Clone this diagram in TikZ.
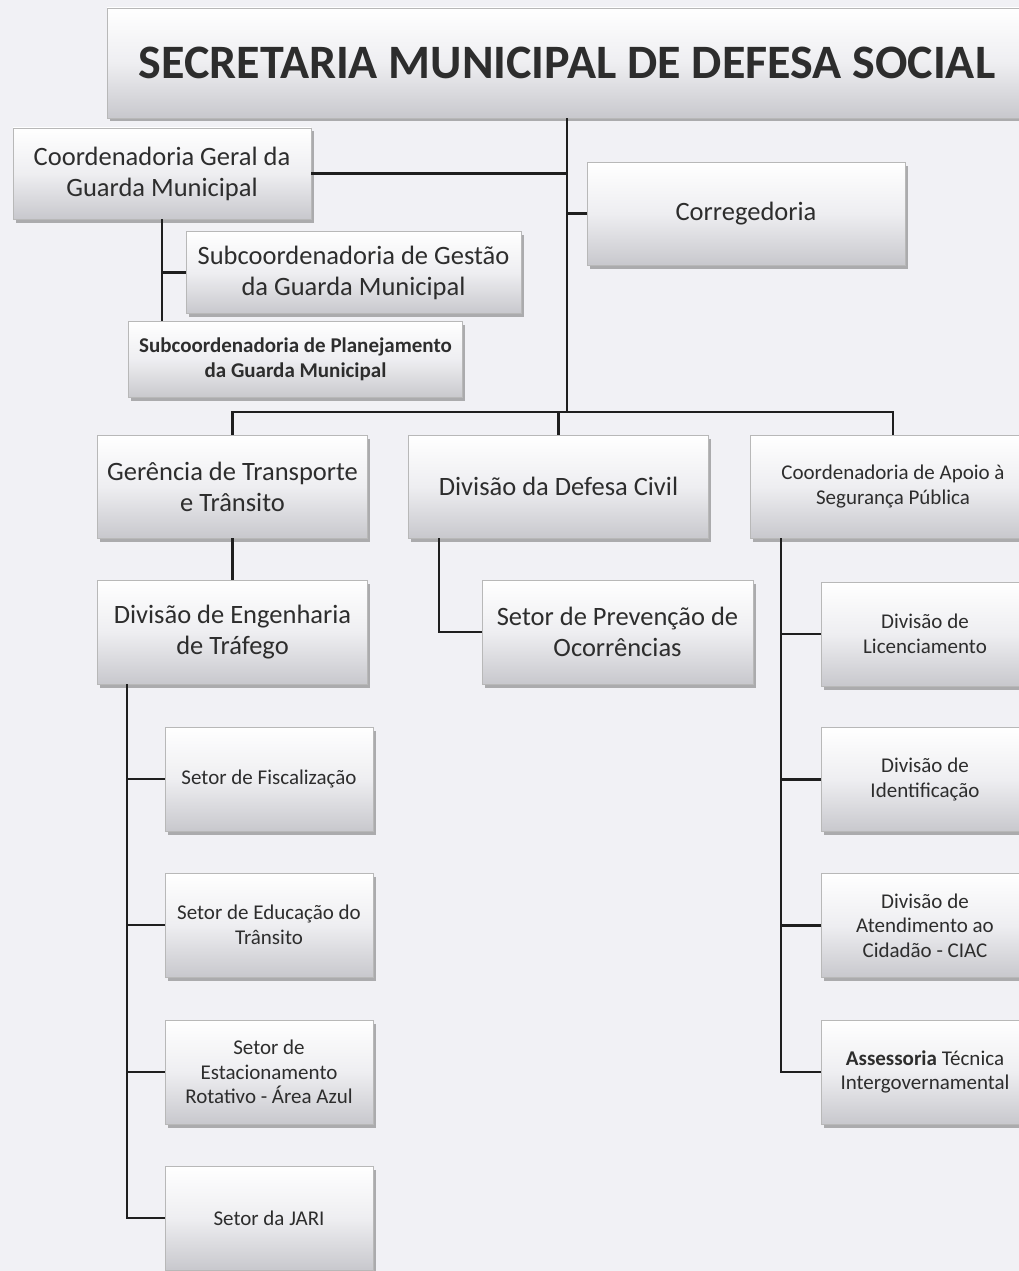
\documentclass[tikz,border=0pt]{standalone}
\usepackage{fontspec}
\setmainfont{Carlito}
\usetikzlibrary{shadows,calc}
\definecolor{bgc}{RGB}{241,241,245}
\definecolor{boxbot}{RGB}{200,200,205}
\definecolor{boxmid}{RGB}{238,238,241}
\definecolor{txt}{RGB}{45,45,45}
\newcommand\fbig{\fontsize{26.5}{31}\selectfont}
\newcommand\fsml{\fontsize{21}{24.5}\selectfont}
\newcommand\ftitle{\fontsize{48}{50}\selectfont\bfseries}
\tikzset{
  box/.style={draw=black!28, line width=0.5pt, top color=white, bottom color=boxbot, middle color=boxmid,
    drop shadow={shadow xshift=2.5pt, shadow yshift=-3.5pt, fill=black!60, opacity=0.5},
    inner sep=2pt, align=center, text=txt, font=\fbig},
  sbox/.style={box, font=\fsml},
  conn/.style={draw=black!88, line width=2.2pt},
}
\begin{document}
\begin{tikzpicture}[x=1pt,y=-1pt]
\fill[bgc] (0,0) rectangle (1019,1271);
\useasboundingbox (0,0) rectangle (1019,1271);

\node[box, font=\ftitle, minimum width=920pt, minimum height=110pt] (title) at (567,63) {SECRETARIA MUNICIPAL DE DEFESA SOCIAL};
\node[box, minimum width=298pt, minimum height=91pt] (cg) at (162,173.5) {Coordenadoria Geral da\\Guarda Municipal};
\node[box, minimum width=318pt, minimum height=103pt] (corr) at (746,213.5) {Corregedoria};
\node[box, minimum width=335pt, minimum height=82pt] (gest) at (353.5,272.5) {Subcoordenadoria de Gestão\\da Guarda Municipal};
\node[sbox, font=\fsml\bfseries, minimum width=334pt, minimum height=76pt] (plan) at (295.5,359.5) {Subcoordenadoria de Planejamento\\da Guarda Municipal};

\node[box, minimum width=270pt, minimum height=103pt] (ger) at (232.5,486.5) {Gerência de Transporte\\e Trânsito};
\node[box, minimum width=300pt, minimum height=103pt] (def) at (558.5,486.5) {Divisão da Defesa Civil};
\node[sbox, minimum width=286pt, minimum height=103pt] (apoio) at (893,486.5) {Coordenadoria de Apoio à\\Segurança Pública};

\node[box, minimum width=270pt, minimum height=104pt] (eng) at (232.5,632) {Divisão de Engenharia\\de Tráfego};
\node[box, minimum width=271pt, minimum height=104pt] (prev) at (617.5,632) {Setor de Prevenção de\\Ocorrências};

\node[sbox, minimum width=208pt, minimum height=104pt] (fisc) at (269,779) {Setor de Fiscalização};
\node[sbox, minimum width=208pt, minimum height=104pt] (educ) at (269,925) {Setor de Educação do\\Trânsito};
\node[sbox, minimum width=208pt, minimum height=104pt] (estac) at (269,1072) {Setor de\\Estacionamento\\Rotativo - Área Azul};
\node[sbox, minimum width=208pt, minimum height=104pt] (jari) at (269,1218) {Setor da JARI};

\node[sbox, minimum width=208pt, minimum height=104pt] (lic) at (925,634) {Divisão de\\Licenciamento};
\node[sbox, minimum width=208pt, minimum height=104pt] (ident) at (925,779.5) {Divisão de\\Identificação};
\node[sbox, minimum width=208pt, minimum height=104pt] (atend) at (925,925.5) {Divisão de\\Atendimento ao\\Cidadão - CIAC};
\node[sbox, minimum width=208pt, minimum height=104pt] (asses) at (925,1072) {\textbf{Assessoria} Técnica\\Intergovernamental};

\coordinate (j1) at (567,412);
\draw[conn] (title.south) -- (j1);
\draw[conn] (cg.east) -- (cg.east -| j1);
\draw[conn] (corr.west) -- (corr.west -| j1);
\draw[conn] (cg.south) -- (cg.south |- plan.north);
\draw[conn] (gest.west -| cg.south) -- (gest.west);
\draw[conn] (ger.north) |- (apoio.north |- j1) -- (apoio.north);
\draw[conn] (def.north) -- (def.north |- j1);
\draw[conn] (ger.south) -- (eng.north);

\coordinate (ev) at ($(eng.south west)+(30,0)$);
\draw[conn] (ev) |- (jari.west);
\draw[conn] (ev |- fisc.west) -- (fisc.west);
\draw[conn] (ev |- educ.west) -- (educ.west);
\draw[conn] (ev |- estac.west) -- (estac.west);

\coordinate (dv) at ($(def.south west)+(31,0)$);
\draw[conn] (dv) |- (prev.west);

\coordinate (av) at ($(apoio.south west)+(31,0)$);
\draw[conn] (av) |- (asses.west);
\draw[conn] (av |- lic.west) -- (lic.west);
\draw[conn] (av |- ident.west) -- (ident.west);
\draw[conn] (av |- atend.west) -- (atend.west);
\end{tikzpicture}
\end{document}
